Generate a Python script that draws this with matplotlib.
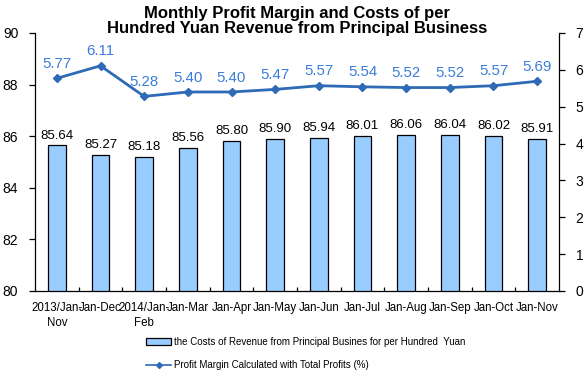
import matplotlib
matplotlib.use("Agg")
import matplotlib.pyplot as plt
from matplotlib.lines import Line2D
from matplotlib.patches import Patch

plt.rcParams['font.family'] = ['Liberation Sans', 'DejaVu Sans']

categories = ["2013/Jan-\nNov", "Jan-Dec", "2014/Jan-\nFeb", "Jan-Mar", "Jan-Apr", "Jan-May",
              "Jan-Jun", "Jan-Jul", "Jan-Aug", "Jan-Sep", "Jan-Oct", "Jan-Nov"]
costs = [85.64, 85.27, 85.18, 85.56, 85.80, 85.90, 85.94, 86.01, 86.06, 86.04, 86.02, 85.91]
margin = [5.77, 6.11, 5.28, 5.40, 5.40, 5.47, 5.57, 5.54, 5.52, 5.52, 5.57, 5.69]
left_ticks = [80, 82, 84, 86, 88, 90]
right_ticks = [0, 1, 2, 3, 4, 5, 6, 7]

title = "Monthly Profit Margin and Costs of per\nHundred Yuan Revenue from Principal Business"
bar_label = "the Costs of Revenue from Principal Busines for per Hundred  Yuan"
line_label = "Profit Margin Calculated with Total Profits (%)"

fig = plt.figure(figsize=(5.88, 3.78), dpi=100)
ax = fig.add_axes([35/588, 1-291/378, 524/588, 258/378])
x = list(range(len(categories)))
ax.bar(x, costs, width=0.41, bottom=0, color='#99CCFF', edgecolor='black', linewidth=0.9, zorder=2)
ax.set_ylim(80, 90)
ax.set_xlim(-0.5, len(categories) - 0.5)
ax.set_yticks(left_ticks)
ax.tick_params(axis='y', labelsize=10, direction='out', length=4, width=0.9, pad=8)
ax.set_xticks(x)
ax.set_xticklabels(categories, fontsize=8.3, linespacing=1.3)
ax.tick_params(axis='x', length=0, pad=8)
ax.set_xticks([i + 0.5 for i in x[:-1]], minor=True)
ax.tick_params(axis='x', which='minor', direction='in', length=3, width=0.9)
for s in ['top', 'right']:
    ax.spines[s].set_visible(False)
for s in ['left', 'bottom']:
    ax.spines[s].set_linewidth(0.9)
for xi, v in zip(x, costs):
    ax.text(xi, v + 0.15, f"{v:.2f}", ha='center', va='bottom', fontsize=9.5, color='black')

ax2 = ax.twinx()
ax2.plot(x, margin, color='#2E6AB5', linewidth=2, marker='D', markersize=4.5, zorder=3)
ax2.set_ylim(0, 7)
ax2.set_yticks(right_ticks)
ax2.tick_params(axis='y', labelsize=10, direction='out', length=4, width=0.9, pad=8)
for s in ['top', 'left', 'bottom']:
    ax2.spines[s].set_visible(False)
ax2.spines['right'].set_linewidth(0.9)
for xi, v in zip(x, margin):
    ax2.text(xi, v + 0.2, f"{v:.2f}", ha='center', va='bottom', fontsize=10.8, color='#3C7DD9')

fig.text(0.505, 0.985, title, ha='center', va='top', fontsize=12, fontweight='bold', linespacing=1.0)

handles = [Patch(facecolor='#99CCFF', edgecolor='black', linewidth=0.9),
           Line2D([0], [0], color='#2E6AB5', linewidth=1.2, marker='D', markersize=3)]
leg = fig.legend(handles, [bar_label, line_label], loc='upper left',
                 bbox_to_anchor=(146/588, 1-337/378), frameon=False, fontsize=7.0,
                 handlelength=2.6, handleheight=0.7, labelspacing=1.35, handletextpad=0.3,
                 borderaxespad=0, borderpad=0)

fig.savefig("out.png", dpi=100)
